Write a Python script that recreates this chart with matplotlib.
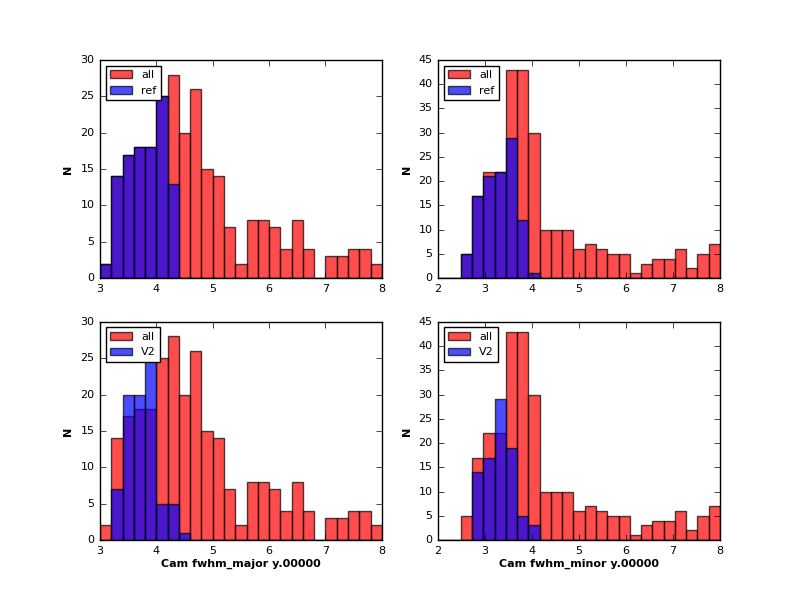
import numpy as np
import matplotlib
matplotlib.use('Agg')
import matplotlib.pyplot as plt

plt.style.use('classic')

# fwhm_major histograms: 25 bins from 3 to 8
major_edges = np.linspace(3, 8, 26)
major_all = [2, 14, 17, 18, 18, 25, 28, 20, 26, 15, 14, 7, 2, 8, 8, 7, 4, 8, 4, 0, 3, 3, 4, 4, 2]
major_ref = [2, 14, 17, 18, 18, 25, 13, 0, 0, 0, 0, 0, 0, 0, 0, 0, 0, 0, 0, 0, 0, 0, 0, 0, 0]
major_v2 = [0, 7, 20, 20, 25, 5, 5, 1, 0, 0, 0, 0, 0, 0, 0, 0, 0, 0, 0, 0, 0, 0, 0, 0, 0]

# fwhm_minor histograms: 25 bins from 2 to 8
minor_edges = np.linspace(2, 8, 26)
minor_all = [0, 0, 5, 17, 22, 22, 43, 43, 30, 10, 10, 10, 6, 7, 6, 5, 5, 1, 3, 4, 4, 6, 2, 5, 7]
minor_ref = [0, 0, 5, 17, 21, 22, 29, 12, 1, 0, 0, 0, 0, 0, 0, 0, 0, 0, 0, 0, 0, 0, 0, 0, 0]
minor_v2 = [0, 0, 0, 14, 17, 29, 19, 5, 3, 0, 0, 0, 0, 0, 0, 0, 0, 0, 0, 0, 0, 0, 0, 0, 0]

xlabel_major = 'Cam fwhm_major y.00000'
xlabel_minor = 'Cam fwhm_minor y.00000'

fig, axes = plt.subplots(2, 2, figsize=(8, 6), dpi=100)
fig.patch.set_facecolor('white')


def draw(ax, edges, all_counts, sub_counts, sub_label, ymax):
    w = edges[1] - edges[0]
    ax.bar(edges[:-1], all_counts, width=w, align='edge', color='r', alpha=0.7,
           edgecolor='k', linewidth=1, label='all')
    ax.bar(edges[:-1], sub_counts, width=w, align='edge', color='b', alpha=0.7,
           edgecolor='k', linewidth=1, label=sub_label)
    ax.set_xlim(edges[0], edges[-1])
    ax.set_ylim(0, ymax)
    ax.set_ylabel('N', fontsize=8, fontweight='bold')
    ax.tick_params(labelsize=8)
    ax.legend(loc='upper left', fontsize=8)


draw(axes[0, 0], major_edges, major_all, major_ref, 'ref', 30)
draw(axes[0, 1], minor_edges, minor_all, minor_ref, 'ref', 45)
draw(axes[1, 0], major_edges, major_all, major_v2, 'V2', 30)
draw(axes[1, 1], minor_edges, minor_all, minor_v2, 'V2', 45)

axes[1, 0].set_xlabel(xlabel_major, fontsize=8, fontweight='bold', labelpad=2)
axes[1, 1].set_xlabel(xlabel_minor, fontsize=8, fontweight='bold', labelpad=2)

plt.savefig('out.png', dpi=100, facecolor='white')
